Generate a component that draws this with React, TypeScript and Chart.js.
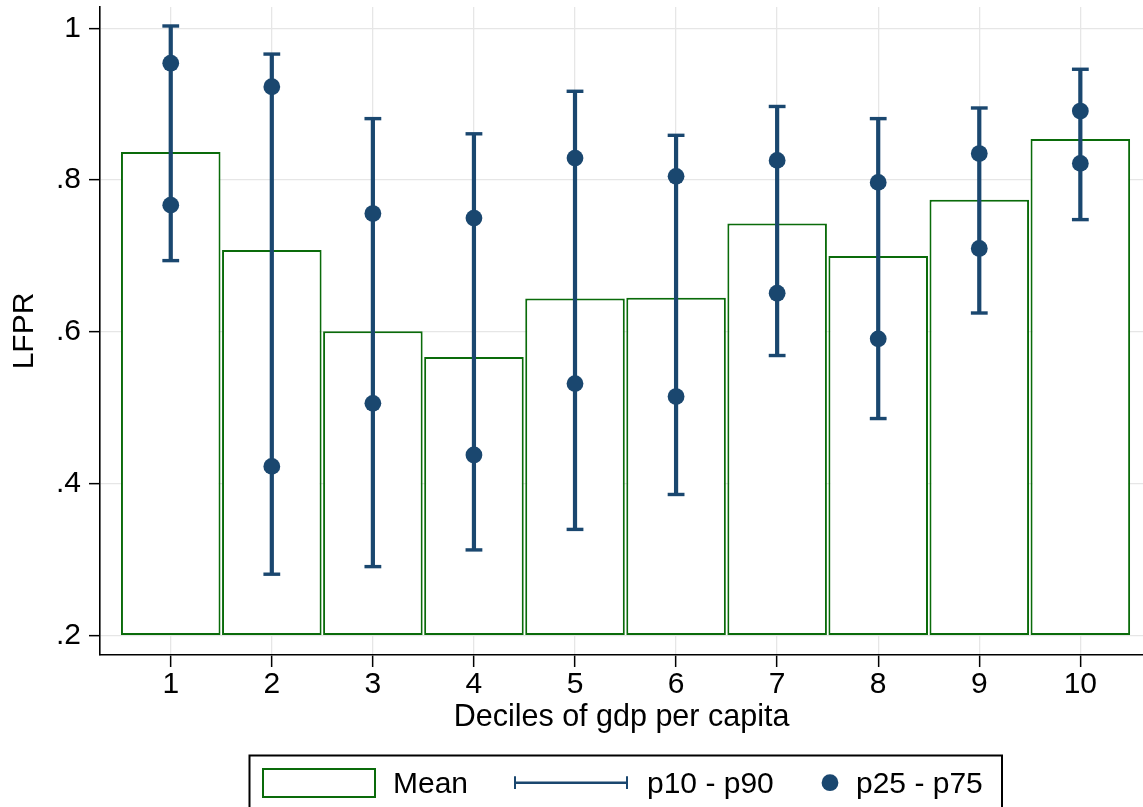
import React, { useEffect, useRef } from "react";
import { Chart, registerables } from "chart.js";

Chart.register(...registerables);

// ---------- data ----------
const DECILES = [1, 2, 3, 4, 5, 6, 7, 8, 9, 10];
const MEAN = [0.837, 0.708, 0.601, 0.567, 0.644, 0.645, 0.743, 0.7, 0.774, 0.854];
const P10 = [0.694, 0.281, 0.291, 0.313, 0.34, 0.386, 0.569, 0.486, 0.625, 0.748];
const P90 = [1.003, 0.966, 0.881, 0.861, 0.917, 0.859, 0.897, 0.881, 0.895, 0.946];
const P25 = [0.767, 0.423, 0.506, 0.438, 0.532, 0.515, 0.651, 0.591, 0.71, 0.822];
const P75 = [0.954, 0.923, 0.756, 0.75, 0.829, 0.805, 0.826, 0.797, 0.835, 0.891];
const Y_TICKS = [0.2, 0.4, 0.6, 0.8, 1];
const X_TICKS = DECILES;
const BAR_BASE = 0.2;
const SERIES_LABELS = ["Mean", "p10 - p90", "p25 - p75"];
const X_TITLE = "Deciles of gdp per capita";
const Y_TITLE = "LFPR";

// ---------- styles ----------
const NAVY = "#1a476f";
const GREEN = "#0a6b0a";
const GRID = "#e6e6e6";
const FONT = "'Liberation Sans', Arial, Helvetica, sans-serif";
const FS = 30;

const fmtY = (v: number) => {
  const r = Math.round(v * 10) / 10;
  if (r === 1) return "1";
  return String(r).replace(/^0/, "");
};

const errorBarPlugin = {
  id: "errorBars",
  afterDatasetDraw(chart: any, args: any) {
    const ds = chart.data.datasets[args.index];
    if (!ds || !ds.errorBars) return;
    const { ctx } = chart;
    const x = chart.scales.x;
    const y = chart.scales.y;
    ctx.save();
    ctx.strokeStyle = ds.borderColor;
    ctx.lineCap = "butt";
    ds.data.forEach((d: any) => {
      const px = x.getPixelForValue(d.x);
      const lo = y.getPixelForValue(d.lo);
      const hi = y.getPixelForValue(d.hi);
      ctx.lineWidth = 4.2;
      ctx.beginPath();
      ctx.moveTo(px, lo);
      ctx.lineTo(px, hi);
      ctx.stroke();
      ctx.lineWidth = 3.4;
      [lo, hi].forEach((yy) => {
        ctx.beginPath();
        ctx.moveTo(px - 8.4, yy);
        ctx.lineTo(px + 8.4, yy);
        ctx.stroke();
      });
    });
    ctx.restore();
  },
};

const boxLegendPlugin = {
  id: "boxLegend",
  afterDraw(chart: any) {
    const { ctx } = chart;
    const ds = chart.data.datasets;
    const cy = 782.7;
    ctx.save();
    // frame
    ctx.strokeStyle = "#000";
    ctx.lineWidth = 2;
    ctx.strokeRect(249.5, 755.5, 752.5, 120);
    ctx.font = `${FS}px ${FONT}`;
    ctx.textBaseline = "alphabetic";
    ctx.textAlign = "left";
    // Mean: hollow box
    ctx.fillStyle = "#fff";
    ctx.fillRect(263, 769, 112, 28);
    ctx.strokeStyle = ds[0].borderColor;
    ctx.lineWidth = 2;
    ctx.strokeRect(263, 769, 112, 28);
    ctx.fillStyle = "#000";
    ctx.fillText(ds[0].label, 393, 793);
    // range: capped line
    ctx.strokeStyle = ds[1].borderColor;
    ctx.lineWidth = 2.6;
    ctx.beginPath();
    ctx.moveTo(514, cy);
    ctx.lineTo(628, cy);
    ctx.stroke();
    ctx.lineWidth = 2;
    [515, 627].forEach((xx) => {
      ctx.beginPath();
      ctx.moveTo(xx, cy - 6.4);
      ctx.lineTo(xx, cy + 6.4);
      ctx.stroke();
    });
    ctx.fillStyle = "#000";
    ctx.fillText(ds[1].label, 647, 793);
    // dot
    ctx.fillStyle = ds[2].pointBackgroundColor;
    ctx.beginPath();
    ctx.arc(830, cy, 8.4, 0, Math.PI * 2);
    ctx.fill();
    ctx.fillStyle = "#000";
    ctx.fillText(ds[2].label, 856, 793);
    ctx.restore();
  },
};

export default function App() {
  const ref = useRef<HTMLCanvasElement | null>(null);

  useEffect(() => {
    if (!ref.current) return;
    const chart = new Chart(ref.current, {
      type: "bar",
      data: {
        datasets: [
          {
            type: "bar",
            label: SERIES_LABELS[0],
            data: DECILES.map((d, i) => ({ x: d, y: MEAN[i] })),
            base: BAR_BASE,
            backgroundColor: "#ffffff",
            borderColor: GREEN,
            borderWidth: 2,
            borderSkipped: false,
            barPercentage: 0.985,
            categoryPercentage: 1,
            order: 3,
          } as any,
          {
            type: "line",
            label: SERIES_LABELS[1],
            data: DECILES.map((d, i) => ({ x: d, y: P90[i], lo: P10[i], hi: P90[i] })),
            showLine: false,
            pointRadius: 0,
            pointHoverRadius: 0,
            pointHitRadius: 0,
            borderColor: NAVY,
            backgroundColor: NAVY,
            errorBars: true,
            order: 2,
          } as any,
          {
            type: "line",
            label: SERIES_LABELS[2],
            data: [
              ...DECILES.map((d, i) => ({ x: d, y: P25[i] })),
              ...DECILES.map((d, i) => ({ x: d, y: P75[i] })),
            ],
            showLine: false,
            pointRadius: 8.4,
            pointHoverRadius: 8.4,
            pointBorderWidth: 0,
            pointBackgroundColor: NAVY,
            borderColor: NAVY,
            backgroundColor: NAVY,
            order: 1,
          } as any,
        ],
      },
      options: {
        animation: false,
        responsive: false,
        devicePixelRatio: 1,
        layout: { autoPadding: false, padding: { top: 7, right: 0, bottom: 67, left: 0 } },
        plugins: {
          legend: { display: false },
          tooltip: { enabled: false },
        },
        scales: {
          x: {
            type: "linear",
            min: 0.3,
            max: 10.62,
            offset: false,
            afterBuildTicks: (s: any) => {
              s.ticks = X_TICKS.map((v) => ({ value: v }));
            },
            afterFit: (s: any) => {
              s.height = 85;
              s.paddingLeft = 0;
              s.paddingRight = 0;
            },
            grid: {
              offset: false,
              color: GRID,
              lineWidth: 1.3,
              drawTicks: true,
              tickLength: 12,
              tickColor: "#000",
              tickWidth: 1.5,
            },
            border: { display: true, color: "#000", width: 1.6 },
            ticks: {
              color: "#000",
              font: { family: FONT, size: FS },
              padding: 0,
              maxRotation: 0,
              autoSkip: false,
              callback: (v: any) => String(v),
            },
            title: {
              display: true,
              text: X_TITLE,
              color: "#000",
              font: { family: FONT, size: 30.5 },
              padding: { top: 0, bottom: 4 },
            },
          },
          y: {
            type: "linear",
            min: 0.1746,
            max: 1.028,
            afterBuildTicks: (s: any) => {
              s.ticks = Y_TICKS.map((v) => ({ value: v }));
            },
            afterFit: (s: any) => {
              s.width = 100;
              s.paddingTop = 0;
              s.paddingBottom = 0;
            },
            grid: {
              color: GRID,
              lineWidth: 1.3,
              drawTicks: true,
              tickLength: 11,
              tickColor: "#000",
              tickWidth: 1.5,
            },
            border: { display: true, color: "#000", width: 1.6 },
            ticks: {
              color: "#000",
              font: { family: FONT, size: FS },
              padding: 8,
              autoSkip: false,
              callback: (v: any) => fmtY(Number(v)),
            },
            title: {
              display: true,
              text: Y_TITLE,
              color: "#000",
              font: { family: FONT, size: FS },
              padding: { top: 7, bottom: 0 },
            },
          },
        },
      } as any,
      plugins: [errorBarPlugin, boxLegendPlugin],
    });
    return () => chart.destroy();
  }, []);

  return (
    <div
      style={{
        position: "fixed",
        left: 0,
        top: 0,
        width: 1143,
        height: 807,
        background: "#ffffff",
        overflow: "hidden",
      }}
    >
      <canvas ref={ref} width={1143} height={807} style={{ width: 1143, height: 807, display: "block" }} />
    </div>
  );
}
